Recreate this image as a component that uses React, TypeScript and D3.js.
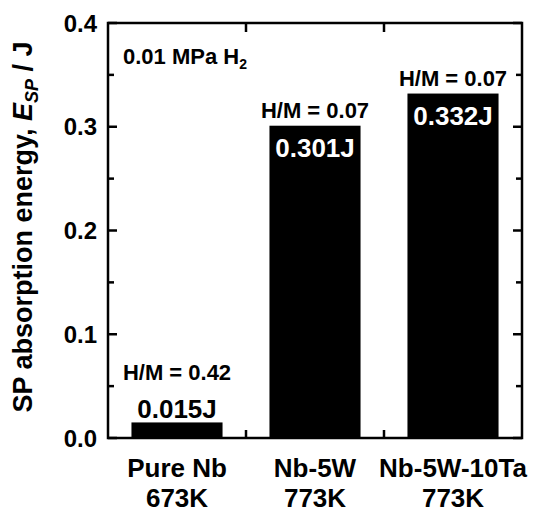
import React from "react";
import * as d3 from "d3";

const categories = ["Pure Nb", "Nb-5W", "Nb-5W-10Ta"];
const temps = ["673K", "773K", "773K"];
const energies = [0.015, 0.301, 0.332];
const energyLabels = ["0.015J", "0.301J", "0.332J"];
const hmLabels = ["H/M = 0.42", "H/M = 0.07", "H/M = 0.07"];
const majorTicks = [0, 0.1, 0.2, 0.3, 0.4];
const minorTicks = [0.05, 0.15, 0.25, 0.35];

const W = 540;
const H = 513;
const L = 108, R = 522, T = 23, B = 438;
const FONT = "'Liberation Sans', Arial, Helvetica, sans-serif";

function Txt({ x, y, size, anchor = "middle", fill = "#000", children }: any) {
  return (
    <text x={x} y={y} fontFamily={FONT} fontWeight="bold" fontSize={size} textAnchor={anchor} fill={fill}>
      {children}
    </text>
  );
}

export default function App() {
  const x = d3.scaleBand<string>().domain(categories).range([L, R]).paddingInner(0.34).paddingOuter(0.17);
  const xb = d3.scaleBand<string>().domain(categories).range([L, R]).padding(0);
  const y = d3.scaleLinear().domain([0, 0.4]).range([B, T]);
  const boundaries = categories.slice(1).map((c) => xb(c) as number);

  return (
    <svg width={W} height={H} style={{ position: "absolute", left: 0, top: 0, background: "#fff" }}>
      <rect width={W} height={H} fill="#fff" />
      {categories.map((c, i) => (
        <rect
          key={c}
          x={x(c)}
          y={y(energies[i])}
          width={x.bandwidth()}
          height={y(0) - y(energies[i])}
          fill="#000"
        />
      ))}
      <rect x={L} y={T} width={R - L} height={B - T} fill="none" stroke="#000" strokeWidth={2.5} />
      {majorTicks.map((t) => (
        <g key={"M" + t}>
          <line x1={L} x2={L + 9} y1={y(t)} y2={y(t)} stroke="#000" strokeWidth={2.5} />
          <line x1={R} x2={R - 9} y1={y(t)} y2={y(t)} stroke="#000" strokeWidth={2.5} />
        </g>
      ))}
      {minorTicks.map((t) => (
        <g key={"m" + t}>
          <line x1={L} x2={L + 6} y1={y(t)} y2={y(t)} stroke="#000" strokeWidth={2.5} />
          <line x1={R} x2={R - 6} y1={y(t)} y2={y(t)} stroke="#000" strokeWidth={2.5} />
        </g>
      ))}
      {boundaries.map((bx, i) => (
        <g key={"b" + i}>
          <line x1={bx} x2={bx} y1={T} y2={T + 9} stroke="#000" strokeWidth={2.5} />
          <line x1={bx} x2={bx} y1={B} y2={B - 8} stroke="#000" strokeWidth={2.5} />
        </g>
      ))}
      {majorTicks.map((t) => (
        <Txt key={"l" + t} x={97} y={y(t) + 8.5} size={24} anchor="end">
          {d3.format(".1f")(t)}
        </Txt>
      ))}
      {categories.map((c, i) => {
        const cx = (x(c) as number) + x.bandwidth() / 2;
        return (
          <g key={"c" + c}>
            <Txt x={cx} y={477} size={26}>{c}</Txt>
            <Txt x={cx} y={507} size={26}>{temps[i]}</Txt>
          </g>
        );
      })}
      {categories.map((c, i) => {
        const cx = (x(c) as number) + x.bandwidth() / 2;
        const top = y(energies[i]);
        const inside = energies[i] > 0.1;
        return (
          <g key={"a" + c}>
            <Txt x={cx} y={inside ? top - 8 : top - 42} size={22}>{hmLabels[i]}</Txt>
            <Txt x={cx} y={inside ? top + 31 : top - 4} size={26} fill={inside ? "#fff" : "#000"}>
              {energyLabels[i]}
            </Txt>
          </g>
        );
      })}
      <text x={123} y={64} fontFamily={FONT} fontWeight="bold" fontSize={22}>
        0.01 MPa H
        <tspan fontSize={14} dy={5}>2</tspan>
      </text>
      <text
        transform={`translate(32,227) rotate(-90)`}
        fontFamily={FONT}
        fontWeight="bold"
        fontSize={27}
        textAnchor="middle"
      >
        SP absorption energy,{" "}
        <tspan fontStyle="italic">E</tspan>
        <tspan fontStyle="italic" fontSize={18} dy={6}>SP</tspan>
        <tspan dy={-6}> / J</tspan>
      </text>
    </svg>
  );
}
